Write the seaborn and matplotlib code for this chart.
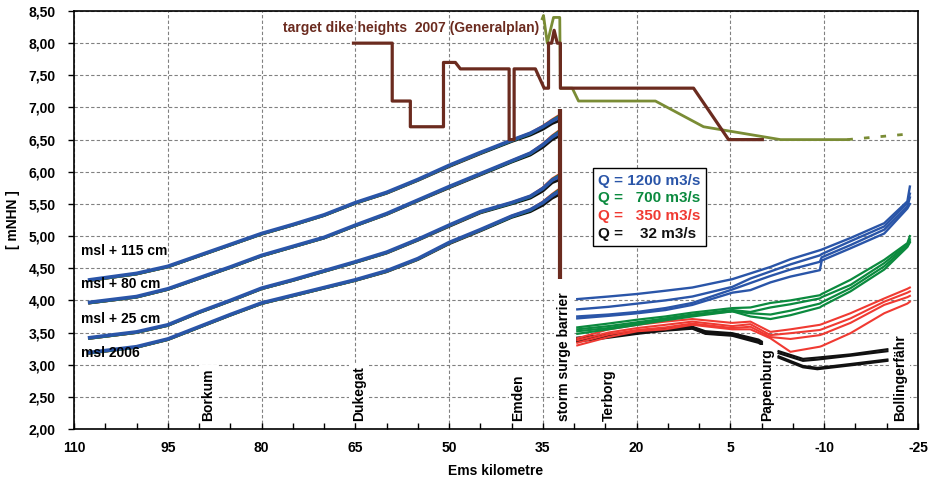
import matplotlib
matplotlib.use("Agg")
import matplotlib.pyplot as plt
import seaborn as sns
import numpy as np
from matplotlib.ticker import FuncFormatter
from matplotlib.lines import Line2D

plt.rcParams['font.family'] = ['Liberation Sans', 'DejaVu Sans']
plt.rcParams['font.weight'] = 'bold'
plt.rcParams['font.size'] = 10

# colours
blue = '#2a55a8'
green = '#0b8a3e'
red = '#f03a32'
black = '#111111'
brown = '#6b2b1f'
olive = '#7a8c35'

# seaward part (km 108 .. storm surge barrier), one blue line per scenario
km_dn = [107.5, 100, 95, 90, 85, 80, 75, 70, 65, 60, 55, 50, 45, 40, 37, 35, 33.5, 32.5]
msl115 = [4.32, 4.42, 4.53, 4.70, 4.87, 5.04, 5.18, 5.33, 5.52, 5.68, 5.88, 6.10, 6.30, 6.49, 6.60, 6.70, 6.79, 6.84]
msl80 = [3.97, 4.06, 4.18, 4.35, 4.52, 4.70, 4.84, 4.98, 5.17, 5.35, 5.56, 5.77, 5.97, 6.17, 6.29, 6.42, 6.54, 6.60]
msl25 = [3.42, 3.51, 3.62, 3.82, 4.00, 4.19, 4.32, 4.46, 4.60, 4.75, 4.95, 5.17, 5.38, 5.52, 5.62, 5.74, 5.87, 5.92]
msl06 = [3.19, 3.28, 3.40, 3.59, 3.78, 3.96, 4.08, 4.20, 4.32, 4.46, 4.65, 4.90, 5.10, 5.31, 5.41, 5.52, 5.63, 5.69]
scen_names = ['msl + 115 cm', 'msl + 80 cm', 'msl + 25 cm', 'msl 2006']
scen_label_y = [4.77, 4.25, 3.71, 3.18]
# deviation of the smaller discharges from the 1200 m3/s line (seaward)
dev_green = [-0.01, -0.01, -0.01, -0.01, -0.01, -0.01, -0.01, -0.01, -0.01, -0.01, -0.01, -0.01, -0.01, -0.01, -0.01, 0.00, 0.01, 0.02]
dev_red = [-0.01, -0.01, -0.01, -0.01, -0.01, -0.01, -0.01, -0.01, -0.01, -0.01, -0.01, -0.01, -0.01, 0.00, 0.00, 0.01, 0.02, 0.03]
dev_black = [-0.01, -0.01, -0.01, -0.01, -0.01, -0.01, -0.01, -0.01, -0.01, -0.015, -0.015, -0.02, -0.02, -0.02, -0.03, -0.04, -0.04, -0.05]

# upstream of the barrier
km_up = [29.5, 24.5, 19.9, 15.4, 11.1, 4.7, 1.8, -1.4, -4.6, -9.3, -9.6, -14.2, -19.6, -23.3, -23.7]
q1200 = [
    [4.02, 4.06, 4.10, 4.15, 4.20, 4.33, 4.42, 4.52, 4.64, 4.78, 4.79, 4.97, 5.20, 5.54, 5.77],
    [3.86, 3.90, 3.95, 4.00, 4.06, 4.21, 4.34, 4.45, 4.56, 4.70, 4.72, 4.92, 5.15, 5.51, 5.66],
    [3.75, 3.78, 3.82, 3.88, 3.96, 4.17, 4.27, 4.38, 4.48, 4.60, 4.67, 4.86, 5.10, 5.46, 5.60],
    [3.72, 3.76, 3.80, 3.85, 3.93, 4.12, 4.16, 4.28, 4.37, 4.47, 4.62, 4.81, 5.04, 5.43, 5.50],
]
q700 = [
    [3.58, 3.64, 3.70, 3.75, 3.81, 3.88, 3.89, 3.96, 4.00, 4.08, 4.10, 4.32, 4.63, 4.89, 5.00],
    [3.55, 3.60, 3.66, 3.72, 3.78, 3.85, 3.82, 3.89, 3.94, 4.03, 4.05, 4.24, 4.58, 4.87, 4.95],
    [3.52, 3.57, 3.64, 3.71, 3.77, 3.83, 3.80, 3.78, 3.84, 3.95, 3.97, 4.19, 4.53, 4.85, 4.92],
    [3.48, 3.55, 3.62, 3.69, 3.75, 3.83, 3.75, 3.71, 3.77, 3.89, 3.91, 4.14, 4.48, 4.83, 4.90],
]
q350 = [
    [3.41, 3.55, 3.62, 3.67, 3.71, 3.65, 3.67, 3.51, 3.55, 3.62, 3.63, 3.80, 4.03, 4.18, 4.20],
    [3.38, 3.50, 3.57, 3.62, 3.67, 3.60, 3.63, 3.46, 3.49, 3.54, 3.55, 3.72, 3.98, 4.12, 4.14],
    [3.34, 3.47, 3.54, 3.58, 3.64, 3.57, 3.59, 3.43, 3.40, 3.46, 3.47, 3.65, 3.93, 4.05, 4.07],
    [3.30, 3.43, 3.52, 3.55, 3.62, 3.55, 3.55, 3.41, 3.20, 3.28, 3.29, 3.49, 3.80, 3.95, 3.98],
]
km_b1 = [29.5, 24.5, 19.9, 15.4, 11.1, 9.0, 4.7, 0.5, 0.0]
q32_a = [
    [3.42, 3.47, 3.51, 3.56, 3.59, 3.52, 3.49, 3.39, 3.36],
    [3.40, 3.45, 3.50, 3.55, 3.58, 3.51, 3.47, 3.37, 3.34],
    [3.38, 3.44, 3.49, 3.54, 3.57, 3.49, 3.46, 3.36, 3.33],
    [3.36, 3.42, 3.48, 3.53, 3.56, 3.48, 3.45, 3.34, 3.31],
]
km_b2 = [-2.7, -6.6, -8.9, -14.2, -20.1]
q32_b = [
    [3.21, 3.09, 3.11, 3.16, 3.24],
    [3.18, 3.06, 3.08, 3.14, 3.21],
    [3.13, 2.98, 2.95, 3.01, 3.08],
    [3.11, 2.96, 2.93, 2.99, 3.06],
]

# target dike heights
dike_km = [65.3, 59.1, 59.1, 56.2, 56.2, 50.9, 50.9, 49.0, 48.2, 40.4, 40.4, 39.6, 39.6, 36.2,
           34.8, 34.1, 34.1, 33.6, 33.2, 32.7, 32.2, 32.2, 10.9, 5.3, -0.1]
dike_h = [8.0, 8.0, 7.1, 7.1, 6.7, 6.7, 7.7, 7.7, 7.6, 7.6, 6.5, 6.5, 7.6, 7.6,
          7.3, 7.3, 8.0, 8.0, 8.2, 8.0, 8.0, 7.3, 7.3, 6.5, 6.5]
olive_km = [35.1, 34.9, 34.3, 33.3, 32.3, 32.2, 30.3, 29.3, 17.0, 9.3, -3.0, -13.7]
olive_h = [8.38, 8.43, 8.0, 8.4, 8.4, 7.3, 7.3, 7.1, 7.1, 6.7, 6.5, 6.5]
olive_plan_km = [-13.7, -23.8]
olive_plan_h = [6.5, 6.59]
barrier_km = 32.3
barrier_range = [4.33, 6.98]

place_names = ['Borkum', 'Dukegat', 'Emden', 'storm surge barrier', 'Terborg', 'Papenburg', 'Bollingerfähr']
place_km = [88.5, 64.4, 38.9, 31.7, 24.5, -0.8, -22.2]

legend_labels = ['Q = 1200 m3/s', 'Q =   700 m3/s', 'Q =   350 m3/s', 'Q =    32 m3/s']
legend_colors = [blue, green, red, black]

fig = plt.figure(figsize=(9.29, 4.83), dpi=100)
ax = fig.add_axes([74 / 929, 1 - 429 / 483, 844 / 929, 418 / 483])


def line(x, y, color, lw, z, **kw):
    sns.lineplot(x=x, y=y, ax=ax, color=color, linewidth=lw, estimator=None,
                 sort=False, legend=False, zorder=z, **kw)


# seaward curves
for vals in [msl115, msl80, msl25, msl06]:
    line(km_dn, np.add(vals, dev_black), black, 2.0, 3)
    line(km_dn, np.add(vals, dev_red), red, 2.0, 3.1)
    line(km_dn, np.add(vals, dev_green), green, 2.0, 3.2)
    line(km_dn, vals, blue, 2.6, 3.3)

# upstream curves
for vals in q32_a:
    line(km_b1, vals, black, 1.6, 3)
for vals in q32_b:
    line(km_b2, vals, black, 1.6, 3)
for vals in q350:
    line(km_up, vals, red, 1.5, 3.1)
for vals in q700:
    line(km_up, vals, green, 1.6, 3.2)
for vals in q1200:
    line(km_up, vals, blue, 1.7, 3.3)

# dike heights
line(olive_km, olive_h, olive, 2.0, 4)
ax.plot(olive_plan_km, olive_plan_h, color=olive, linewidth=2.0, linestyle=(0, (2, 4)), zorder=4)
line(dike_km, dike_h, brown, 2.3, 5)
ax.vlines(barrier_km, barrier_range[0], barrier_range[1], color=brown, linewidth=3.0, zorder=5)

ax.text(76.5, 8.24, 'target dike heights  2007 (Generalplan)', color=brown,
        ha='left', va='center', fontsize=10, fontweight='bold', zorder=6)

for name, y in zip(scen_names, scen_label_y):
    ax.text(108.9, y, name, ha='left', va='center', fontsize=10, fontweight='bold', zorder=6)

for name, km in zip(place_names, place_km):
    ax.text(km, 2.13, name, rotation=90, ha='center', va='bottom', fontsize=10,
            fontweight='bold', zorder=6,
            bbox=dict(facecolor='white', edgecolor='none', pad=2))

handles = [Line2D([], [], color='none') for _ in legend_labels]
leg = ax.legend(handles, legend_labels, loc='upper left', bbox_to_anchor=(0.615, 0.624),
                borderaxespad=0, handlelength=0, handletextpad=0, fancybox=False,
                framealpha=1, edgecolor='black', prop={'size': 11, 'weight': 'bold'},
                labelspacing=0.25, borderpad=0.35)
leg.get_frame().set_linewidth(1.0)
for t, c in zip(leg.get_texts(), legend_colors):
    t.set_color(c)
leg.set_zorder(7)

ax.set_xlim(110, -25)
ax.set_ylim(2.0, 8.5)
ax.set_xticks(np.arange(110, -26, -15))
ax.set_xticks(np.arange(110, -26, -5), minor=True)
ax.set_yticks(np.arange(2.0, 8.51, 0.5))
ax.yaxis.set_major_formatter(FuncFormatter(lambda v, p: f'{v:.2f}'.replace('.', ',')))
ax.xaxis.set_major_formatter(FuncFormatter(lambda v, p: f'{v:.0f}'))
ax.tick_params(axis='x', which='both', direction='in', length=4, width=1, pad=9, labelsize=10)
ax.tick_params(axis='y', direction='out', length=4, width=1, pad=9, labelsize=10)
ax.grid(True, which='major', color='#808080', linestyle=(0, (3, 2)), linewidth=0.8)
ax.set_axisbelow(True)
for s in ax.spines.values():
    s.set_linewidth(1.2)
    s.set_color('black')

ax.set_xlabel('Ems kilometre', fontsize=10, fontweight='bold', labelpad=6)
ax.set_ylabel('[ mNHN ]', fontsize=10, fontweight='bold', labelpad=6)

fig.savefig('out.png', dpi=100)
